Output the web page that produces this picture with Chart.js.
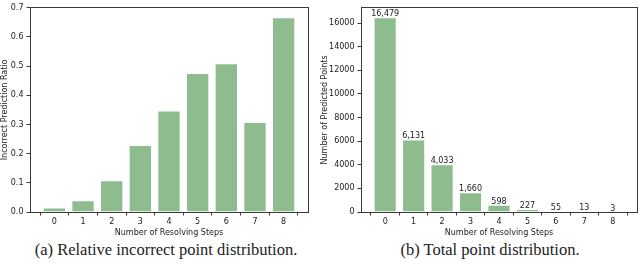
<!DOCTYPE html>
<html><head><meta charset="utf-8">
<script src="https://cdn.jsdelivr.net/npm/chart.js@4"></script>
<style>
body{margin:0;width:640px;height:264px;background:#fff;overflow:hidden;position:relative}
.box{position:absolute;top:0;width:320px;height:238px}
.cap{position:absolute;top:240px;width:320px;font-family:"Liberation Serif","DejaVu Serif",serif;font-size:16.5px;line-height:19px;color:#222;text-align:center;white-space:nowrap}
</style></head><body>
<div class="box" style="left:0"><canvas id="c1" width="320" height="238"></canvas></div>
<div class="box" style="left:320px"><canvas id="c2" width="320" height="238"></canvas></div>
<div class="cap" style="left:6px">(a) Relative incorrect point distribution.</div>
<div class="cap" style="left:330px">(b) Total point distribution.</div>
<script>
const steps = [0, 1, 2, 3, 4, 5, 6, 7, 8];
const stepLabels = ['0', '1', '2', '3', '4', '5', '6', '7', '8'];
const incorrectRatio = [0.015, 0.040, 0.108, 0.229, 0.347, 0.476, 0.509, 0.308, 0.667];
const totalPoints = [16479, 6131, 4033, 1660, 598, 227, 55, 13, 3];
const ratioTicks = [0, 0.1, 0.2, 0.3, 0.4, 0.5, 0.6, 0.7];
const countTicks = [0, 2000, 4000, 6000, 8000, 10000, 12000, 14000, 16000];

const BAR = '#8fbc8f';
const AX = '#3a3a3a';
const TXT = '#1a1a1a';
const FONT = {family: 'DejaVu Sans', size: 8};

const valueLabels = {
  id: 'valueLabels',
  afterDatasetsDraw(chart, args, opts) {
    if (!opts.show) return;
    const ctx = chart.ctx;
    const meta = chart.getDatasetMeta(0);
    ctx.save();
    ctx.font = '8px "DejaVu Sans"';
    ctx.fillStyle = TXT;
    ctx.textAlign = 'center';
    ctx.textBaseline = 'bottom';
    meta.data.forEach((el, i) => {
      ctx.fillText(totalPoints[i].toLocaleString('en-US'), el.x, el.y + 0.5);
    });
    ctx.restore();
  }
};

function makeChart(id, values, yTicks, yMax, yTitle, fmt, leftW, rightW, showLabels) {
  const pts = steps.map((s, i) => ({x: s, y: values[i]}));
  return new Chart(document.getElementById(id), {
    type: 'bar',
    data: {datasets: [{data: pts, backgroundColor: BAR, borderColor: 'rgba(255,255,255,0.35)', borderWidth: 0.8,
      barPercentage: 0.8, categoryPercentage: 1.0}]},
    options: {
      responsive: false, animation: false,
      layout: {padding: 0},
      plugins: {legend: {display: false}, tooltip: {enabled: false}, valueLabels: {show: showLabels}},
      scales: {
        x: {
          type: 'linear', position: 'bottom', min: -0.85, max: 8.85, offset: false,
          afterBuildTicks: s => { s.ticks = steps.map(v => ({value: v})); },
          afterFit: s => { s.height = 26; },
          ticks: {callback: (v) => stepLabels[steps.indexOf(v)] ?? '', font: FONT, color: TXT, padding: 2, maxRotation: 0, autoSkip: false},
          grid: {display: true, drawOnChartArea: false, drawTicks: true, tickLength: 3.5, color: AX},
          border: {display: true, color: AX, width: 1},
          title: {display: true, text: 'Number of Resolving Steps', font: FONT, color: TXT, padding: {top: 1, bottom: 0}}
        },
        y: {
          type: 'linear', position: 'left', min: 0, max: yMax,
          afterBuildTicks: s => { s.ticks = yTicks.map(v => ({value: v})); },
          afterFit: s => { s.width = leftW; },
          ticks: {callback: fmt, font: FONT, color: TXT, padding: 3},
          grid: {display: true, drawOnChartArea: false, drawTicks: true, tickLength: 3.5, color: AX},
          border: {display: true, color: AX, width: 1},
          title: {display: true, text: yTitle, font: FONT, color: TXT, padding: 0}
        },
        x2: {
          type: 'linear', position: 'top', min: 0, max: 1,
          afterFit: s => { s.height = 5; },
          ticks: {display: false}, grid: {display: false}, border: {display: true, color: AX, width: 1}
        },
        y2: {
          type: 'linear', position: 'right', min: 0, max: 1,
          afterFit: s => { s.width = rightW; },
          ticks: {display: false}, grid: {display: false}, border: {display: true, color: AX, width: 1}
        }
      }
    },
    plugins: [valueLabels]
  });
}

makeChart('c1', incorrectRatio, ratioTicks, 0.7, 'Incorrect Prediction Ratio', v => v.toFixed(1), 30, 12, false);
makeChart('c2', totalPoints, countTicks, Math.max(...totalPoints) * 1.05, 'Number of Predicted Points', v => String(v), 41, 3, true);
</script>
</body></html>
